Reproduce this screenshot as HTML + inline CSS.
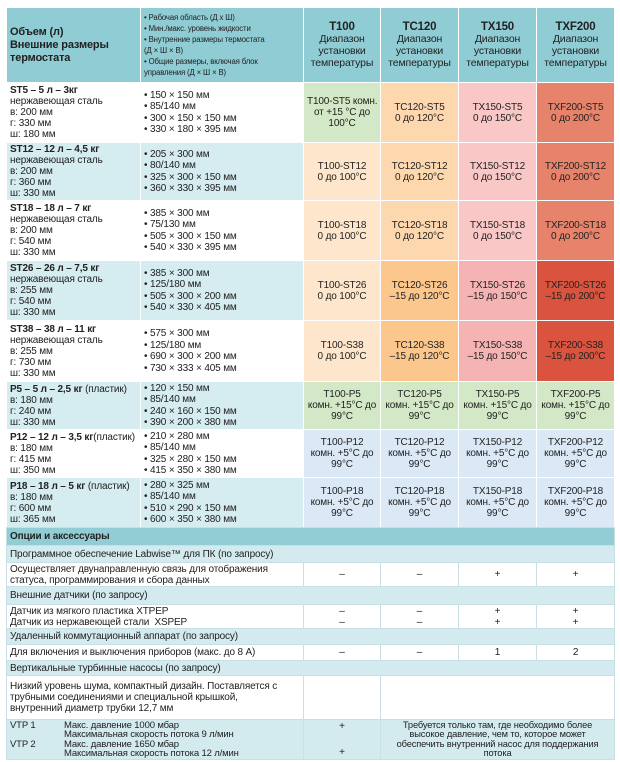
<!DOCTYPE html>
<html><head><meta charset="utf-8"><style>
html,body{margin:0;padding:0;background:#fff;width:620px;height:762px;overflow:hidden}
table{position:absolute;left:6px;top:7px;width:608px;border-collapse:collapse;table-layout:fixed;font-family:"Liberation Sans","Noto Sans CJK SC",sans-serif;font-size:10px;color:#222;line-height:11px;letter-spacing:-0.15px}
td{border:1px solid #fff;padding:0 3px;vertical-align:middle;overflow:hidden;white-space:nowrap}
.h{background:#8fccd4;text-align:center;line-height:12px;font-size:10.5px}
.h b{font-size:11.5px}
.hl{background:#8fccd4;font-weight:bold;font-size:11px;line-height:13px}
.hs{background:#8fccd4;font-size:7.8px;line-height:11px}
.w{background:#fff}.b{background:#d5ecf0}
.c{text-align:center;line-height:11px}
.g{background:#d3e8c7}.p{background:#fde6cb}.o{background:#fdd8ae}.o2{background:#fbc78d}
.k{background:#f9c7c6}.k2{background:#f6b3b3}.r{background:#e6836a}.r2{background:#da533e}.bl{background:#dbe9f6}
.sec{background:#d3eaee}
.opt td{border:1px solid #c8dfe3}
.big{background:#92cdd5;font-weight:bold}
.bul{line-height:11.5px}
.lb{display:inline-block;width:54px}
</style></head><body>
<table>
<colgroup><col style="width:134px"><col style="width:163px"><col style="width:77px"><col style="width:78px"><col style="width:78px"><col style="width:78px"></colgroup>
<tr style="height:75px"><td class="hl">Объем (л)<br>Внешние размеры<br>термостата</td>
<td class="hs">• Рабочая область (Д х Ш)<br>• Мин./макс. уровень жидкости<br>• Внутренние размеры термостата<br>(Д × Ш × В)<br>• Общие размеры, включая блок<br>управления (Д × Ш × В)</td>
<td class="h"><b>T100</b><br>Диапазон<br>установки<br>температуры</td>
<td class="h"><b>TC120</b><br>Диапазон<br>установки<br>температуры</td>
<td class="h"><b>TX150</b><br>Диапазон<br>установки<br>температуры</td>
<td class="h"><b>TXF200</b><br>Диапазон<br>установки<br>температуры</td></tr>

<tr style="height:60px"><td class="w"><b>ST5 – 5 л – 3кг</b><br>нержавеющая сталь<br>в: 200 мм<br>г: 330 мм<br>ш: 180 мм</td>
<td class="w bul">• 150 × 150 мм<br>• 85/140 мм<br>• 300 × 150 × 150 мм<br>• 330 × 180 × 395 мм</td>
<td class="c g">T100-ST5 комн.<br>от +15 °C до<br>100°C</td><td class="c o">TC120-ST5<br>0 до 120°C</td><td class="c k">TX150-ST5<br>0 до 150°C</td><td class="c r">TXF200-ST5<br>0 до 200°C</td></tr>

<tr style="height:58px"><td class="b"><b>ST12 – 12 л – 4,5 кг</b><br>нержавеющая сталь<br>в: 200 мм<br>г: 360 мм<br>ш: 330 мм</td>
<td class="b bul">• 205 × 300 мм<br>• 80/140 мм<br>• 325 × 300 × 150 мм<br>• 360 × 330 × 395 мм</td>
<td class="c p">T100-ST12<br>0 до 100°C</td><td class="c o">TC120-ST12<br>0 до 120°C</td><td class="c k">TX150-ST12<br>0 до 150°C</td><td class="c r">TXF200-ST12<br>0 до 200°C</td></tr>

<tr style="height:60px"><td class="w"><b>ST18 – 18 л – 7 кг</b><br>нержавеющая сталь<br>в: 200 мм<br>г: 540 мм<br>ш: 330 мм</td>
<td class="w bul">• 385 × 300 мм<br>• 75/130 мм<br>• 505 × 300 × 150 мм<br>• 540 × 330 × 395 мм</td>
<td class="c p">T100-ST18<br>0 до 100°C</td><td class="c o">TC120-ST18<br>0 до 120°C</td><td class="c k">TX150-ST18<br>0 до 150°C</td><td class="c r">TXF200-ST18<br>0 до 200°C</td></tr>

<tr style="height:60px"><td class="b"><b>ST26 – 26 л – 7,5 кг</b><br>нержавеющая сталь<br>в: 255 мм<br>г: 540 мм<br>ш: 330 мм</td>
<td class="b bul">• 385 × 300 мм<br>• 125/180 мм<br>• 505 × 300 × 200 мм<br>• 540 × 330 × 405 мм</td>
<td class="c p">T100-ST26<br>0 до 100°C</td><td class="c o2">TC120-ST26<br>–15 до 120°C</td><td class="c k2">TX150-ST26<br>–15 до 150°C</td><td class="c r2">TXF200-ST26<br>–15 до 200°C</td></tr>

<tr style="height:61px"><td class="w"><b>ST38 – 38 л – 11 кг</b><br>нержавеющая сталь<br>в: 255 мм<br>г: 730 мм<br>ш: 330 мм</td>
<td class="w bul">• 575 × 300 мм<br>• 125/180 мм<br>• 690 × 300 × 200 мм<br>• 730 × 333 × 405 мм</td>
<td class="c p">T100-S38<br>0 до 100°C</td><td class="c o2">TC120-S38<br>–15 до 120°C</td><td class="c k2">TX150-S38<br>–15 до 150°C</td><td class="c r2">TXF200-S38<br>–15 до 200°C</td></tr>

<tr style="height:48px"><td class="b"><b>P5 – 5 л – 2,5 кг</b> (пластик)<br>в: 180 мм<br>г: 240 мм<br>ш: 330 мм</td>
<td class="b bul">• 120 × 150 мм<br>• 85/140 мм<br>• 240 × 160 × 150 мм<br>• 390 × 200 × 380 мм</td>
<td class="c g">T100-P5<br>комн. +15°C до<br>99°C</td><td class="c g">TC120-P5<br>комн. +15°C до<br>99°C</td><td class="c g">TX150-P5<br>комн. +15°C до<br>99°C</td><td class="c g">TXF200-P5<br>комн. +15°C до<br>99°C</td></tr>

<tr style="height:48px"><td class="w"><b>P12 – 12 л – 3,5 кг</b>(пластик)<br>в: 180 мм<br>г: 415 мм<br>ш: 350 мм</td>
<td class="w bul">• 210 × 280 мм<br>• 85/140 мм<br>• 325 × 280 × 150 мм<br>• 415 × 350 × 380 мм</td>
<td class="c bl">T100-P12<br>комн. +5°C до<br>99°C</td><td class="c bl">TC120-P12<br>комн. +5°C до<br>99°C</td><td class="c bl">TX150-P12<br>комн. +5°C до<br>99°C</td><td class="c bl">TXF200-P12<br>комн. +5°C до<br>99°C</td></tr>

<tr style="height:50px"><td class="b"><b>P18 – 18 л – 5 кг</b> (пластик)<br>в: 180 мм<br>г: 600 мм<br>ш: 365 мм</td>
<td class="b bul">• 280 × 325 мм<br>• 85/140 мм<br>• 510 × 290 × 150 мм<br>• 600 × 350 × 380 мм</td>
<td class="c bl">T100-P18<br>комн. +5°C до<br>99°C</td><td class="c bl">TC120-P18<br>комн. +5°C до<br>99°C</td><td class="c bl">TX150-P18<br>комн. +5°C до<br>99°C</td><td class="c bl">TXF200-P18<br>комн. +5°C до<br>99°C</td></tr>
</table>

<table class="opt" style="top:527px">
<colgroup><col style="width:297px"><col style="width:77px"><col style="width:78px"><col style="width:78px"><col style="width:78px"></colgroup>
<tr style="height:18px"><td colspan="5" class="big">Опции и аксессуары</td></tr>
<tr style="height:17px"><td colspan="5" class="sec">Программное обеспечение Labwise™ для ПК (по запросу)</td></tr>
<tr style="height:24px"><td>Осуществляет двунаправленную связь для отображения<br>статуса, программирования и сбора данных</td><td class="c">–</td><td class="c">–</td><td class="c">+</td><td class="c">+</td></tr>
<tr style="height:18px"><td colspan="5" class="sec">Внешние датчики (по запросу)</td></tr>
<tr style="height:24px"><td>Датчик из мягкого пластика XTPEP<br>Датчик из нержавеющей стали&nbsp; XSPEP</td><td class="c">–<br>–</td><td class="c">–<br>–</td><td class="c">+<br>+</td><td class="c">+<br>+</td></tr>
<tr style="height:16px"><td colspan="5" class="sec">Удаленный коммутационный аппарат (по запросу)</td></tr>
<tr style="height:16px"><td>Для включения и выключения приборов (макс. до 8 А)</td><td class="c">–</td><td class="c">–</td><td class="c">1</td><td class="c">2</td></tr>
<tr style="height:15px"><td colspan="5" class="sec">Вертикальные турбинные насосы (по запросу)</td></tr>
<tr style="height:44px"><td>Низкий уровень шума, компактный дизайн. Поставляется с<br>трубными соединениями и специальной крышкой,<br>внутренний диаметр трубки 12,7 мм</td><td></td><td colspan="3"></td></tr>
<tr style="height:38px"><td class="sec" style="line-height:9.3px;font-size:9.5px"><span class="lb">VTP 1</span>Макс. давление 1000 мбар<br><span class="lb"></span>Максимальная скорость потока 9 л/мин<br><span class="lb">VTP 2</span>Макс. давление 1650 мбар<br><span class="lb"></span>Максимальная скорость потока 12 л/мин</td>
<td class="sec c" style="line-height:13px">+<br><br>+</td>
<td colspan="3" class="sec c" style="line-height:9.3px;font-size:9.3px">Требуется только там, где необходимо более<br>высокое давление, чем то, которое может<br>обеспечить внутренний насос для поддержания<br>потока</td></tr>
</table>
</body></html>
